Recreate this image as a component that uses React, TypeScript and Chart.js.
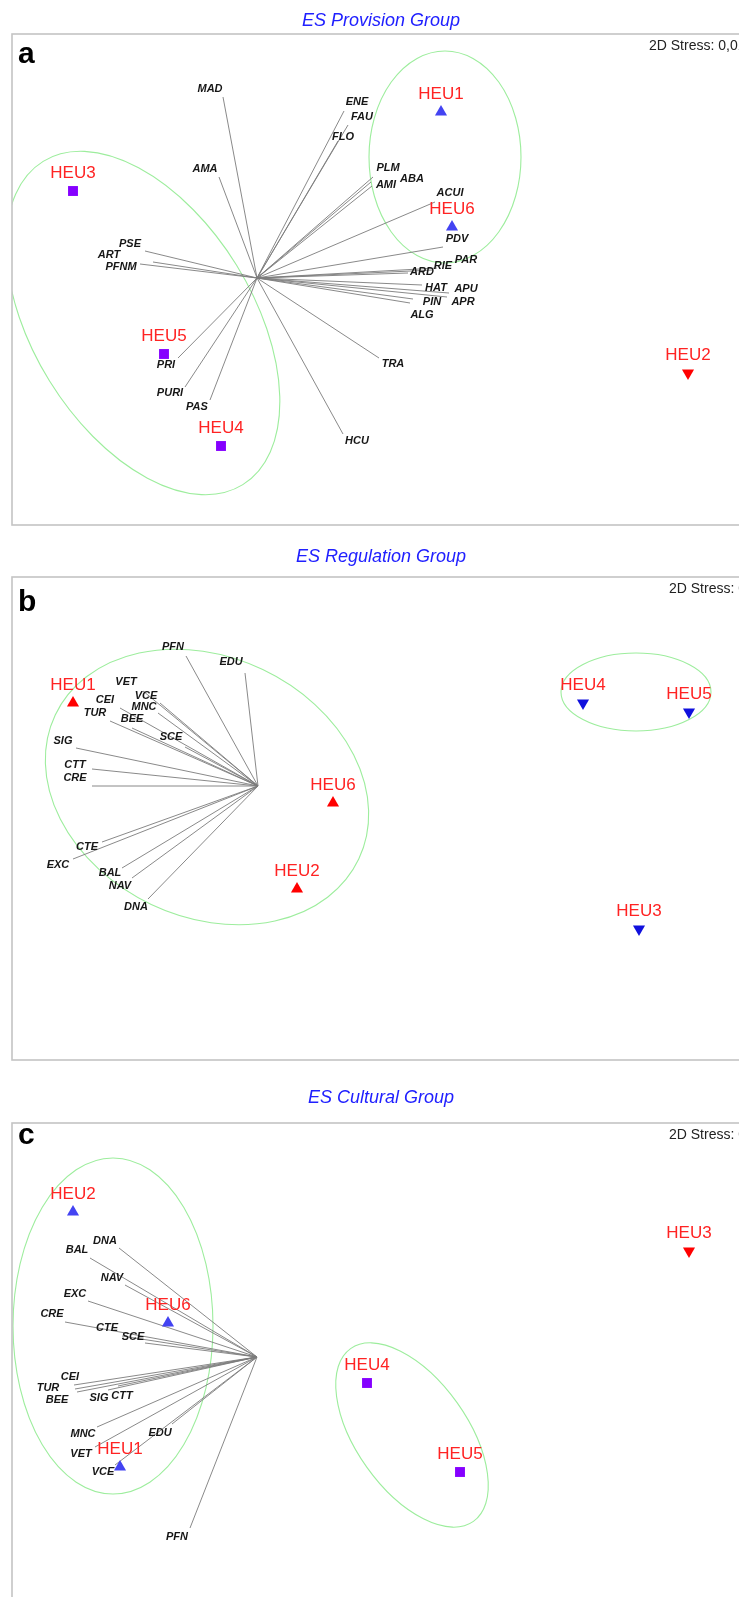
import React, { useEffect, useRef } from 'react';
import { Chart, registerables } from 'chart.js';

Chart.register(...registerables);

const FONT = '"Liberation Sans", Arial, Helvetica, sans-serif';

// ---------------- Panel a : ES Provision Group ----------------
const provisionVectors = ['MAD', 'AMA', 'ENE', 'FAU', 'FLO', 'PLM', 'AMI', 'ABA', 'ACUI', 'PDV', 'PAR', 'RIE', 'ARD', 'HAT', 'APU', 'PIN', 'APR', 'ALG', 'TRA', 'HCU', 'PAS', 'PURI', 'PRI', 'PFNM', 'ART', 'PSE'];
const provisionVecX = [-0.34, -0.38, 0.87, 0.91, 0.81, 1.16, 1.15, 1.14, 1.78, 1.86, 1.8, 1.76, 1.51, 1.65, 1.92, 1.56, 1.9, 1.53, 1.22, 0.86, -0.47, -0.72, -0.79, -1.17, -1.04, -1.12];
const provisionVecY = [1.81, 1.01, 1.67, 1.53, 1.37, 1.01, 0.92, 0.96, 0.76, 0.31, 0.1, 0.08, 0.05, -0.07, -0.15, -0.21, -0.19, -0.25, -0.8, -1.56, -1.22, -1.09, -0.8, 0.14, 0.16, 0.27];
const provisionLabelX = [-0.47, -0.52, 1.0, 1.05, 0.86, 1.31, 1.29, 1.55, 1.93, 2.0, 2.09, 1.86, 1.65, 1.79, 2.09, 1.75, 2.06, 1.65, 1.36, 1.0, -0.6, -0.87, -0.91, -1.36, -1.48, -1.27];
const provisionLabelY = [1.89, 1.09, 1.76, 1.61, 1.41, 1.1, 0.93, 0.99, 0.85, 0.39, 0.18, 0.12, 0.06, -0.1, -0.11, -0.24, -0.24, -0.37, -0.86, -1.63, -1.29, -1.15, -0.87, 0.11, 0.23, 0.34];
const provisionSites = ['HEU1', 'HEU6', 'HEU2', 'HEU3', 'HEU5', 'HEU4'];
const provisionSiteX = [1.84, 1.95, 4.31, -1.84, -0.93, -0.36];
const provisionSiteY = [1.66, 0.51, -0.95, 0.87, -0.76, -1.68];
const provisionSiteShape = ['up', 'up', 'down', 'square', 'square', 'square'];
const provisionEllX = [-1.14, 1.88];
const provisionEllY = [-0.45, 1.21];
const provisionEllRX = [1.9, 0.76];
const provisionEllRY = [1.1, 1.06];
const provisionEllAngle = [-58.3, 0];
const provisionXRange = [-2.45, 4.93];
const provisionYRange = [-2.47, 2.44];
const provisionStress = '0,01';

// ---------------- Panel b : ES Regulation Group ----------------
const regulationVectors = ['PFN', 'EDU', 'VET', 'VCE', 'MNC', 'BEE', 'SCE', 'CEI', 'TUR', 'SIG', 'CTT', 'CRE', 'CTE', 'EXC', 'BAL', 'NAV', 'DNA'];
const regulationVecX = [-0.72, -0.13, -1.15, -0.98, -1.0, -1.26, -0.73, -1.38, -1.48, -1.82, -1.66, -1.66, -1.56, -1.85, -1.36, -1.26, -1.1];
const regulationVecY = [1.3, 1.13, 0.95, 0.83, 0.73, 0.58, 0.39, 0.78, 0.65, 0.38, 0.17, 0.0, -0.56, -0.73, -0.82, -0.92, -1.13];
const regulationLabelX = [-0.85, -0.27, -1.32, -1.12, -1.14, -1.26, -0.87, -1.53, -1.63, -1.95, -1.83, -1.83, -1.71, -2.0, -1.48, -1.38, -1.22];
const regulationLabelY = [1.39, 1.24, 1.04, 0.9, 0.79, 0.67, 0.49, 0.86, 0.73, 0.45, 0.21, 0.08, -0.61, -0.79, -0.87, -1.0, -1.21];
const regulationSites = ['HEU1', 'HEU6', 'HEU2', 'HEU4', 'HEU5', 'HEU3'];
const regulationSiteX = [-1.85, 0.75, 0.39, 3.25, 4.31, 3.81];
const regulationSiteY = [0.83, -0.17, -1.03, 0.83, 0.74, -1.43];
const regulationSiteShape = ['up', 'up', 'up', 'down', 'down', 'down'];
const regulationEllX = [-0.51, 3.78];
const regulationEllY = [-0.01, 0.94];
const regulationEllRX = [1.68, 0.75];
const regulationEllRY = [1.3, 0.39];
const regulationEllAngle = [-25.4, 0];
const regulationXRange = [-2.46, 4.92];
const regulationYRange = [-2.74, 2.09];
const regulationStress = '0,01';

// ---------------- Panel c : ES Cultural Group ----------------
const culturalVectors = ['DNA', 'BAL', 'NAV', 'EXC', 'CRE', 'CTE', 'SCE', 'CEI', 'TUR', 'BEE', 'SIG', 'CTT', 'MNC', 'VET', 'VCE', 'EDU', 'PFN'];
const culturalVecX = [-1.38, -1.67, -1.32, -1.69, -1.92, -1.35, -1.12, -1.83, -1.82, -1.8, -1.49, -1.39, -1.6, -1.62, -1.42, -0.85, -0.67];
const culturalVecY = [1.09, 0.99, 0.72, 0.56, 0.35, 0.21, 0.14, -0.28, -0.32, -0.35, -0.33, -0.29, -0.7, -0.9, -1.08, -0.67, -1.71];
const culturalLabelX = [-1.52, -1.8, -1.45, -1.82, -2.05, -1.5, -1.24, -1.87, -2.09, -2.0, -1.58, -1.35, -1.74, -1.76, -1.54, -0.97, -0.8];
const culturalLabelY = [1.16, 1.07, 0.79, 0.63, 0.43, 0.29, 0.2, -0.2, -0.31, -0.43, -0.41, -0.39, -0.77, -0.97, -1.15, -0.76, -1.8];
const culturalSites = ['HEU2', 'HEU6', 'HEU1', 'HEU4', 'HEU5', 'HEU3'];
const culturalSiteX = [-1.84, -0.89, -1.37, 1.1, 2.03, 4.32];
const culturalSiteY = [1.45, 0.34, -1.1, -0.26, -1.15, 1.06];
const culturalSiteShape = ['up', 'up', 'up', 'square', 'square', 'down'];
const culturalEllX = [-1.44, 1.55];
const culturalEllY = [0.31, -0.78];
const culturalEllRX = [1.0, 1.06];
const culturalEllRY = [1.68, 0.555];
const culturalEllAngle = [0, -54.6];
const culturalXRange = [-2.45, 4.93];
const culturalYRange = [-2.56, 2.34];
const culturalStress = '0,01';

type Panel = {
  title: string;
  titleOffset: number;
  letter: string;
  letterBase: number;
  stress: string;
  stressX: number;
  vectors: string[]; vx: number[]; vy: number[]; lx: number[]; ly: number[];
  sites: string[]; sx: number[]; sy: number[]; shape: string[];
  ex: number[]; ey: number[]; erx: number[]; ery: number[]; ea: number[];
  xr: number[]; yr: number[];
  colors: Record<string, string>;
  boxTop: number; boxH: number; padTop: number;
};

const PANELS: Panel[] = [
  {
    title: 'ES Provision Group', titleOffset: 13, letter: 'a', letterBase: 29, stress: provisionStress, stressX: 637,
    vectors: provisionVectors, vx: provisionVecX, vy: provisionVecY, lx: provisionLabelX, ly: provisionLabelY,
    sites: provisionSites, sx: provisionSiteX, sy: provisionSiteY, shape: provisionSiteShape,
    ex: provisionEllX, ey: provisionEllY, erx: provisionEllRX, ery: provisionEllRY, ea: provisionEllAngle,
    xr: provisionXRange, yr: provisionYRange,
    colors: { up: '#4343f2', down: '#ff0000', square: '#8500ff' },
    boxTop: 34, boxH: 491, padTop: 26,
  },
  {
    title: 'ES Regulation Group', titleOffset: 20, letter: 'b', letterBase: 34, stress: regulationStress, stressX: 657,
    vectors: regulationVectors, vx: regulationVecX, vy: regulationVecY, lx: regulationLabelX, ly: regulationLabelY,
    sites: regulationSites, sx: regulationSiteX, sy: regulationSiteY, shape: regulationSiteShape,
    ex: regulationEllX, ey: regulationEllY, erx: regulationEllRX, ery: regulationEllRY, ea: regulationEllAngle,
    xr: regulationXRange, yr: regulationYRange,
    colors: { up: '#ff0000', down: '#1010dd', square: '#8500ff' },
    boxTop: 577, boxH: 483, padTop: 34,
  },
  {
    title: 'ES Cultural Group', titleOffset: 25, letter: 'c', letterBase: 21, stress: culturalStress, stressX: 657,
    vectors: culturalVectors, vx: culturalVecX, vy: culturalVecY, lx: culturalLabelX, ly: culturalLabelY,
    sites: culturalSites, sx: culturalSiteX, sy: culturalSiteY, shape: culturalSiteShape,
    ex: culturalEllX, ey: culturalEllY, erx: culturalEllRX, ery: culturalEllRY, ea: culturalEllAngle,
    xr: culturalXRange, yr: culturalYRange,
    colors: { up: '#4343f2', down: '#ff0000', square: '#8500ff' },
    boxTop: 1123, boxH: 490, padTop: 40,
  },
];

const CANVAS_W = 750;
const PAD_BOTTOM = 19;

const decorPlugin = {
  id: 'nmdsDecor',
  beforeDatasetsDraw(chart: any, _args: any, opts: any) {
    const p: Panel = opts.panel;
    const { ctx, chartArea } = chart;
    const xs = chart.scales.x;
    const ys = chart.scales.y;
    ctx.save();
    ctx.beginPath();
    ctx.rect(chartArea.left, chartArea.top, chartArea.right - chartArea.left, chartArea.bottom - chartArea.top);
    ctx.clip();
    p.ex.forEach((ex, i) => {
      const cx = xs.getPixelForValue(ex);
      const cy = ys.getPixelForValue(p.ey[i]);
      const rx = Math.abs(xs.getPixelForValue(ex + p.erx[i]) - cx);
      const ry = Math.abs(ys.getPixelForValue(p.ey[i] + p.ery[i]) - cy);
      ctx.beginPath();
      ctx.ellipse(cx, cy, rx, ry, (-p.ea[i] * Math.PI) / 180, 0, Math.PI * 2);
      ctx.strokeStyle = '#9ded9d';
      ctx.lineWidth = 1.1;
      ctx.stroke();
    });
    ctx.restore();
  },
  afterDatasetsDraw(chart: any, _args: any, opts: any) {
    const p: Panel = opts.panel;
    const { ctx, chartArea } = chart;
    const xs = chart.scales.x;
    const ys = chart.scales.y;
    ctx.save();
    // vector labels
    ctx.font = `italic bold 11px ${FONT}`;
    ctx.fillStyle = '#161616';
    ctx.textAlign = 'center';
    ctx.textBaseline = 'middle';
    p.vectors.forEach((name, i) => {
      ctx.fillText(name, xs.getPixelForValue(p.lx[i]), ys.getPixelForValue(p.ly[i]));
    });
    // site labels
    ctx.font = `17px ${FONT}`;
    ctx.fillStyle = '#ff2323';
    ctx.textBaseline = 'alphabetic';
    p.sites.forEach((name, i) => {
      ctx.fillText(name, xs.getPixelForValue(p.sx[i]), ys.getPixelForValue(p.sy[i]) - 13);
    });
    // frame
    ctx.strokeStyle = '#c4c4c4';
    ctx.lineWidth = 1.6;
    ctx.strokeRect(chartArea.left, chartArea.top, chartArea.right - chartArea.left, chartArea.bottom - chartArea.top);
    // title
    ctx.font = `italic 18px ${FONT}`;
    ctx.fillStyle = '#2020ff';
    ctx.textBaseline = 'middle';
    ctx.fillText(p.title, (chartArea.left + chartArea.right) / 2, chartArea.top - p.titleOffset);
    // panel letter
    ctx.font = `bold 30px ${FONT}`;
    ctx.fillStyle = '#000';
    ctx.textAlign = 'left';
    ctx.textBaseline = 'alphabetic';
    ctx.fillText(p.letter, chartArea.left + 6, chartArea.top + p.letterBase);
    // stress
    ctx.font = `14px ${FONT}`;
    ctx.fillStyle = '#222';
    ctx.fillText(`2D Stress: ${p.stress}`, chartArea.left + p.stressX, chartArea.top + 16);
    ctx.restore();
  },
};

function NmdsPanel({ panel }: { panel: Panel }) {
  const ref = useRef<HTMLCanvasElement | null>(null);
  const height = panel.padTop + panel.boxH + PAD_BOTTOM;
  useEffect(() => {
    if (!ref.current) return;
    const vecData: { x: number; y: number }[] = [];
    panel.vx.forEach((x, i) => {
      vecData.push({ x: 0, y: 0 }, { x, y: panel.vy[i] }, { x: NaN, y: NaN });
    });
    const datasets: any[] = [
      {
        label: 'vectors',
        data: vecData,
        showLine: true,
        spanGaps: false,
        borderColor: '#7c7c7c',
        borderWidth: 0.9,
        pointRadius: 0,
        order: 2,
      },
    ];
    ['up', 'down', 'square'].forEach((s) => {
      const idx = panel.shape.map((v, i) => (v === s ? i : -1)).filter((i) => i >= 0);
      if (!idx.length) return;
      datasets.push({
        label: s,
        data: idx.map((i) => ({ x: panel.sx[i], y: panel.sy[i] })),
        pointStyle: s === 'square' ? 'rect' : 'triangle',
        rotation: s === 'down' ? 180 : 0,
        pointRadius: 7,
        pointBackgroundColor: panel.colors[s],
        pointBorderColor: panel.colors[s],
        pointBorderWidth: 0,
        order: 1,
      });
    });
    const chart = new Chart(ref.current, {
      type: 'scatter',
      data: { datasets },
      options: {
        animation: false,
        responsive: false,
        events: [],
        devicePixelRatio: window.devicePixelRatio || 1,
        layout: {
          autoPadding: false,
          padding: { left: 4, right: CANVAS_W - 4 - 738, top: panel.padTop, bottom: PAD_BOTTOM },
        },
        scales: {
          x: { type: 'linear', display: false, min: panel.xr[0], max: panel.xr[1] },
          y: { type: 'linear', display: false, min: panel.yr[0], max: panel.yr[1] },
        },
        plugins: {
          legend: { display: false },
          tooltip: { enabled: false },
          nmdsDecor: { panel },
        } as any,
      },
      plugins: [decorPlugin as any],
    });
    return () => chart.destroy();
  }, [panel]);
  return (
    <canvas
      ref={ref}
      width={CANVAS_W}
      height={height}
      style={{
        position: 'absolute',
        left: 8,
        top: panel.boxTop - panel.padTop,
        width: CANVAS_W,
        height,
        display: 'block',
      }}
    />
  );
}

export default function App() {
  return (
    <div
      style={{
        position: 'fixed',
        left: 0,
        top: 0,
        width: 739,
        height: 1597,
        overflow: 'hidden',
        background: '#fff',
      }}
    >
      {PANELS.map((p) => (
        <NmdsPanel key={p.letter} panel={p} />
      ))}
    </div>
  );
}
